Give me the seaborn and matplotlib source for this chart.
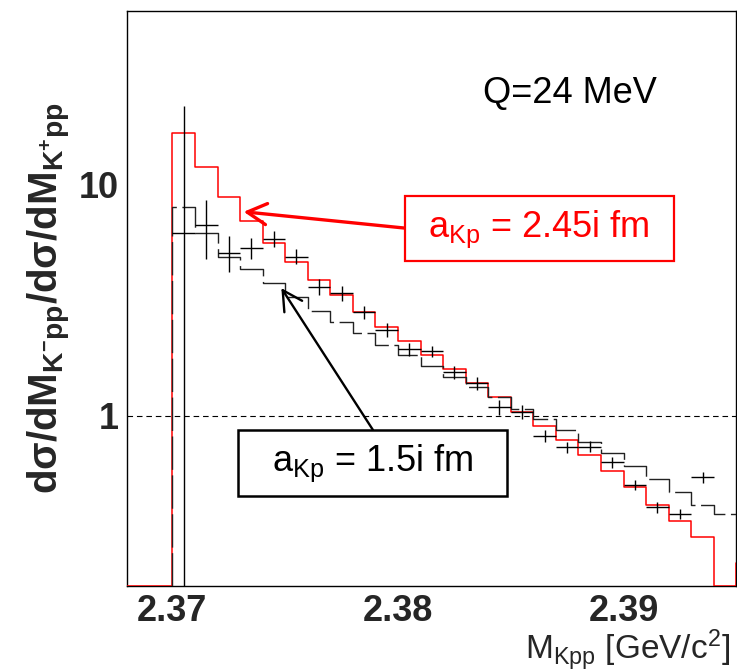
import numpy as np
import matplotlib
matplotlib.use("Agg")
import matplotlib.pyplot as plt
from matplotlib.patches import Rectangle
from matplotlib.ticker import FixedLocator, NullFormatter, FixedFormatter
import seaborn as sns

# ---- data ---------------------------------------------------------------
bin_width = 0.001
# model ratio, a_Kp = 2.45i fm (bins start at 2.368 GeV/c^2)
red_start = 2.368
red_ratio = [0, 0, 16.7, 11.85, 8.79, 6.92, 5.59, 4.60, 3.86, 3.31, 2.80,
             2.41, 2.10, 1.835, 1.584, 1.385, 1.205, 1.040, 0.907, 0.783,
             0.674, 0.578, 0.492, 0.413, 0.349, 0.299, 0, 0.231]
# model ratio, a_Kp = 1.5i fm (bins start at 2.370 GeV/c^2)
black_start = 2.370
black_ratio = [8.0, 6.18, 4.87, 4.30, 3.73, 3.27, 2.84, 2.55, 2.27, 2.02,
               1.83, 1.635, 1.474, 1.335, 1.205, 1.069, 0.965, 0.868, 0.772,
               0.690, 0.606, 0.532, 0.470, 0.410, 0.375]
# measured ratio
data_start = 2.3705
data_ratio = [6.18, 6.67, 5.06, 5.29, 5.82, 4.87, 3.61, 3.38, 2.80, 2.35,
              1.94, 1.90, 1.54, 1.38, 1.088, 1.037, 0.817, 0.729, 0.736,
              0.631, 0.503, 0.403, 0.377, 0.541]
data_err = [15.6, 1.9, 0.9, 0.55, 0.45, 0.36, 0.27, 0.25, 0.19, 0.16, 0.12,
            0.11, 0.10, 0.09, 0.08, 0.07, 0.05, 0.04, 0.04, 0.034, 0.027,
            0.022, 0.02, 0.03]

x_major = [2.37, 2.38, 2.39]
x_major_labels = ["2.37", "2.38", "2.39"]
y_major = [1, 10]
y_major_labels = ["1", "10"]

xlim = (2.368, 2.395)
ylim = (0.1837, 56.1)

# ---- style --------------------------------------------------------------
sns.set_style("white")
plt.rcParams["font.family"] = ["Liberation Sans", "DejaVu Sans"]
plt.rcParams["mathtext.default"] = "regular"
plt.rcParams["mathtext.fontset"] = "custom"
plt.rcParams["mathtext.rm"] = "Liberation Sans"
plt.rcParams["mathtext.bf"] = "Liberation Sans:bold"
plt.rcParams["mathtext.it"] = "Liberation Sans:italic"

fig = plt.figure(figsize=(7.37, 6.72), dpi=100)
ax = fig.add_axes([0.1727, 0.128, 0.8264, 0.8556])
ax.set_yscale("log")
ax.set_xlim(*xlim)
ax.set_ylim(*ylim)


def step_xy(start, values, floor):
    edges = start + bin_width * np.arange(len(values) + 1)
    vals = [v if v > 0 else floor for v in values]
    xs = np.concatenate([[edges[0]], edges])
    ys = np.concatenate([[floor], vals, [vals[-1]]])
    return xs, ys


# a_Kp = 2.45i fm histogram
xr, yr = step_xy(red_start, red_ratio, ylim[0])
sns.lineplot(x=xr, y=yr, estimator=None, sort=False, drawstyle="steps-post",
             color="#ff0000", lw=1.1, ax=ax, zorder=3)

# a_Kp = 1.5i fm histogram (dashed)
xb, yb = step_xy(black_start, black_ratio, ylim[0])
sns.lineplot(x=xb, y=yb, estimator=None, sort=False, drawstyle="steps-post",
             color="#222222", lw=1.0, linestyle=(0, (24, 4)), ax=ax, zorder=3)

# measured points with error bars
xc = data_start + bin_width * np.arange(len(data_ratio))
ax.errorbar(xc, data_ratio, xerr=bin_width / 2, yerr=data_err, fmt="none",
            ecolor="black", elinewidth=1.0, capsize=0, zorder=4)

# unity reference line
ax.axhline(1.0, color="black", lw=0.8, ls=(0, (5, 3.5)), zorder=2)

# ---- axes ---------------------------------------------------------------
ax.xaxis.set_major_locator(FixedLocator(x_major))
ax.xaxis.set_major_formatter(FixedFormatter(x_major_labels))
ax.xaxis.set_minor_locator(FixedLocator(np.arange(2.368, 2.3951, 0.002)))
ax.xaxis.set_minor_formatter(NullFormatter())
ax.yaxis.set_major_locator(FixedLocator(y_major))
ax.yaxis.set_major_formatter(FixedFormatter(y_major_labels))
minor_y = [m * d for d in (0.1, 1, 10) for m in range(2, 10)]
ax.yaxis.set_minor_locator(FixedLocator(minor_y))
ax.yaxis.set_minor_formatter(NullFormatter())

ax.tick_params(which="both", direction="in", top=False, right=False,
               color="black", width=0.9)
ax.tick_params(which="major", length=13, labelsize=26, pad=6)
ax.tick_params(axis="x", which="major", pad=6)
ax.tick_params(which="minor", length=6.5)
for lab in ax.get_xticklabels() + ax.get_yticklabels():
    lab.set_fontweight("bold")
for sp in ax.spines.values():
    sp.set_visible(True)
    sp.set_color("black")
    sp.set_linewidth(1.0)

ax.set_xlabel(r"M$_{Kpp}$ [GeV/c$^{2}$]", fontsize=24, ha="right", va="top")
ax.xaxis.set_label_coords(0.99, -0.073)
ax.set_ylabel(r"$\mathbf{d\sigma/dM_{K^{-}pp}/d\sigma/dM_{K^{+}pp}}$",
              fontsize=29, va="center")
ax.yaxis.set_label_coords(-0.128, 0.5)

# ---- annotations --------------------------------------------------------
ax.text(0.727, 0.856, "Q=24 MeV", transform=ax.transAxes, fontsize=26,
        ha="center", va="center", color="black")

ax.add_patch(Rectangle((0.456, 0.565), 0.442, 0.113, transform=ax.transAxes,
                       facecolor="white", edgecolor="#ff0000", lw=1.6,
                       zorder=6))
ax.text(0.6755, 0.621, r"a$_{Kp}$ = 2.45i fm", transform=ax.transAxes,
        fontsize=26, ha="center", va="center", color="#ff0000", zorder=7)

ax.add_patch(Rectangle((0.181, 0.157), 0.443, 0.114, transform=ax.transAxes,
                       facecolor="white", edgecolor="black", lw=1.8,
                       zorder=6))
ax.text(0.4025, 0.214, r"a$_{Kp}$ = 1.5i fm", transform=ax.transAxes,
        fontsize=26, ha="center", va="center", color="black", zorder=7)

ax.annotate("", xy=(2.37316, 7.61), xytext=(2.3803, 6.47),
            arrowprops=dict(arrowstyle="->,head_length=0.7,head_width=0.38",
                            color="#ff0000", lw=2.4, mutation_scale=20,
                            shrinkA=0, shrinkB=0), zorder=5)
ax.annotate("", xy=(2.37483, 3.56), xytext=(2.37889, 0.868),
            arrowprops=dict(arrowstyle="->,head_length=0.7,head_width=0.38",
                            color="black", lw=1.7, mutation_scale=20,
                            shrinkA=0, shrinkB=0), zorder=5)

fig.savefig("out.png", dpi=100)
